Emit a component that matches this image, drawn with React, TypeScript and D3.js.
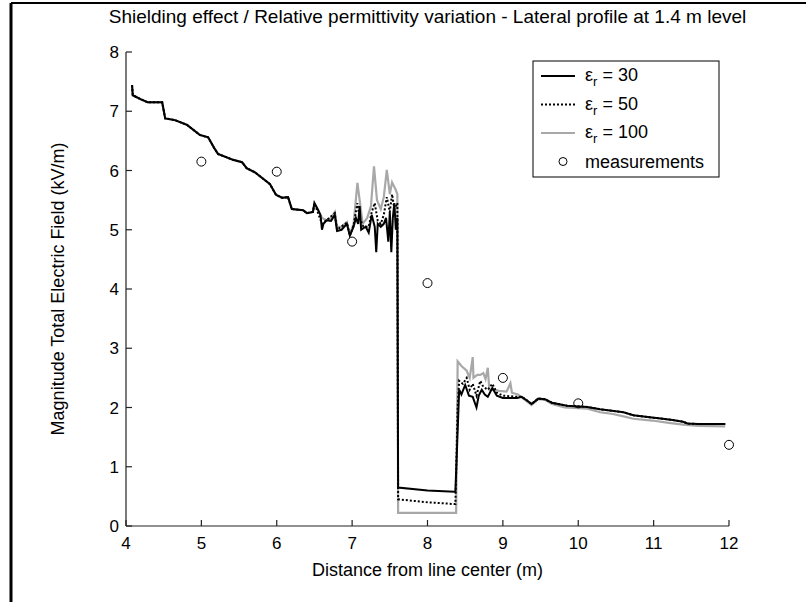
import React from "react";
import * as d3 from "d3";

type Pt = [number, number];

// Shared start of all three simulated profiles (x in m, E in kV/m)
const sharedLeftX = [4.08, 4.09, 4.2, 4.29, 4.48, 4.52, 4.65, 4.81, 4.98, 5.09, 5.17, 5.22, 5.42, 5.54, 5.6, 5.71, 5.87, 5.91, 5.99, 6.07, 6.15, 6.2, 6.35, 6.4, 6.48];
const sharedLeftY = [7.44, 7.27, 7.2, 7.15, 7.15, 6.88, 6.85, 6.77, 6.6, 6.56, 6.38, 6.28, 6.18, 6.14, 6.04, 5.97, 5.81, 5.77, 5.59, 5.54, 5.55, 5.35, 5.33, 5.28, 5.3];

// er = 30
const er30MidX = [6.5, 6.55, 6.58, 6.6, 6.62, 6.66, 6.72, 6.77, 6.8, 6.86, 6.93, 6.97, 7.02, 7.05, 7.08, 7.1, 7.12, 7.18, 7.22, 7.26, 7.3, 7.32, 7.34, 7.38, 7.42, 7.45, 7.48, 7.5, 7.52, 7.54, 7.56, 7.58, 7.6, 7.61, 8.0, 8.36, 8.37, 8.4, 8.42, 8.45, 8.5, 8.55, 8.6, 8.65, 8.68, 8.72, 8.76, 8.8, 8.86, 8.92, 9.0, 9.19];
const er30MidY = [5.45, 5.33, 5.25, 5.0, 5.1, 5.16, 5.15, 5.25, 4.98, 5.0, 5.1, 4.9, 5.05, 5.2, 5.1, 5.4, 5.0, 5.05, 4.95, 5.25, 5.05, 4.62, 5.1, 5.05, 5.1, 5.2, 4.8, 5.3, 4.62, 5.2, 5.45, 5.0, 5.2, 0.65, 0.6, 0.58, 0.58, 1.6, 2.3, 2.22, 2.38, 2.2, 2.18, 2.0, 2.2, 2.3, 2.22, 2.18, 2.33, 2.2, 2.16, 2.16];
const er30TailX = [9.25, 9.33, 9.38, 9.47, 9.56, 9.65, 9.85, 10.12, 10.29, 10.42, 10.6, 10.73, 10.98, 11.12, 11.25, 11.39, 11.45, 11.59, 11.95];
const er30TailY = [2.18, 2.11, 2.06, 2.15, 2.14, 2.08, 2.03, 2.01, 1.97, 1.95, 1.92, 1.87, 1.83, 1.81, 1.79, 1.76, 1.73, 1.72, 1.72];

// er = 50
const er50MidX = [6.5, 6.6, 6.66, 6.77, 6.8, 6.93, 6.97, 7.02, 7.07, 7.1, 7.15, 7.22, 7.26, 7.3, 7.34, 7.38, 7.42, 7.46, 7.5, 7.53, 7.56, 7.6, 7.61, 8.0, 8.36, 8.37, 8.4, 8.42, 8.47, 8.52, 8.56, 8.6, 8.65, 8.7, 8.74, 8.8, 8.86, 8.92, 9.0, 9.19];
const er50MidY = [5.45, 5.1, 5.16, 5.28, 5.0, 5.12, 4.9, 5.08, 5.45, 5.2, 5.05, 5.05, 5.3, 5.45, 5.15, 5.1, 5.25, 5.55, 5.3, 5.6, 5.35, 5.45, 0.45, 0.4, 0.37, 0.37, 2.0, 2.45, 2.4, 2.5, 2.3, 2.4, 2.2, 2.45, 2.35, 2.3, 2.4, 2.25, 2.2, 2.18];

// er = 100
const er100MidX = [6.5, 6.55, 6.6, 6.66, 6.72, 6.77, 6.8, 6.86, 6.93, 6.97, 7.02, 7.07, 7.1, 7.14, 7.2, 7.25, 7.29, 7.33, 7.38, 7.42, 7.46, 7.5, 7.53, 7.58, 7.6, 7.61, 8.36, 8.38, 8.4, 8.45, 8.52, 8.56, 8.6, 8.61, 8.66, 8.7, 8.74, 8.77, 8.8, 8.82, 8.88, 8.95, 9.05, 9.1, 9.12, 9.2];
const er100MidY = [5.45, 5.33, 5.2, 5.16, 5.2, 5.3, 5.05, 5.05, 5.13, 4.92, 5.1, 5.79, 5.5, 5.1, 5.2, 5.4, 6.07, 5.5, 5.35, 5.55, 6.01, 5.6, 5.8, 5.67, 5.6, 0.22, 0.22, 0.22, 2.78, 2.7, 2.62, 2.5, 2.85, 2.5, 2.55, 2.55, 2.58, 2.48, 2.67, 2.3, 2.3, 2.28, 2.27, 2.41, 2.25, 2.22];
const er100TailX = [9.33, 9.38, 9.47, 9.56, 9.65, 9.82, 10.12, 10.29, 10.46, 10.6, 10.73, 10.98, 11.2, 11.39, 11.6, 11.95];
const er100TailY = [2.09, 2.04, 2.14, 2.13, 2.06, 2.0, 1.98, 1.92, 1.89, 1.85, 1.81, 1.78, 1.74, 1.71, 1.69, 1.68];

// Measurements
const measX = [5, 6, 7, 8, 9, 10, 12];
const measY = [6.15, 5.98, 4.8, 4.1, 2.5, 2.07, 1.37];

const xTicks = [4, 5, 6, 7, 8, 9, 10, 11, 12];
const yTicks = [0, 1, 2, 3, 4, 5, 6, 7, 8];

const legendValues = ["30", "50", "100"];

const zip = (xs: number[], ys: number[]): Pt[] => xs.map((x, i) => [x, ys[i]]);

const er30: Pt[] = [...zip(sharedLeftX, sharedLeftY), ...zip(er30MidX, er30MidY), ...zip(er30TailX, er30TailY)];
const er50: Pt[] = [...zip(sharedLeftX, sharedLeftY), ...zip(er50MidX, er50MidY), ...zip(er30TailX, er30TailY)];
const er100: Pt[] = [...zip(sharedLeftX, sharedLeftY), ...zip(er100MidX, er100MidY), ...zip(er100TailX, er100TailY)];
const meas: Pt[] = zip(measX, measY);

const W = 806;
const H = 602;
const L = 126, R = 729, T = 52, B = 526;
const FONT = "'Liberation Sans', Arial, Helvetica, sans-serif";
const AX = "#222";
const GRAY = "#a8a8a8";
const FS = 18;

export default function App() {
  const x = d3.scaleLinear().domain([4, 12]).range([L, R]);
  const y = d3.scaleLinear().domain([0, 8]).range([B, T]);
  const line = d3.line<Pt>().x((d) => x(d[0])).y((d) => y(d[1]));

  const lgX = 533, lgY = 61, lgW = 186, lgH = 116;
  const rowY = (i: number) => lgY + 15 + i * 28.5;

  return (
    <svg width={W} height={H} style={{ position: "absolute", left: 0, top: 0, background: "#fff" }} fontFamily={FONT}>
      <rect x={0} y={0} width={W} height={H} fill="#fff" />
      {/* outer frame (partial) */}
      <line x1={11} y1={3} x2={W} y2={3} stroke="#000" strokeWidth={2} />
      <line x1={11} y1={3} x2={11} y2={H} stroke="#000" strokeWidth={3} />

      <text x={(L + R) / 2} y={23} textAnchor="middle" fontSize={19} fill="#000">
        Shielding effect / Relative permittivity variation - Lateral profile at 1.4 m level
      </text>

      {/* curves */}
      <path d={line(er100) || ""} fill="none" stroke={GRAY} strokeWidth={2.2} strokeLinejoin="miter" />
      <path d={line(er50) || ""} fill="none" stroke="#000" strokeWidth={2} strokeDasharray="2,2" />
      <path d={line(er30) || ""} fill="none" stroke="#000" strokeWidth={2} />
      {meas.map((d, i) => (
        <circle key={i} cx={x(d[0])} cy={y(d[1])} r={4.5} fill="none" stroke="#000" strokeWidth={1} />
      ))}

      {/* axes */}
      <line x1={L} y1={B} x2={R} y2={B} stroke={AX} strokeWidth={1.2} />
      <line x1={L} y1={B} x2={L} y2={T} stroke={AX} strokeWidth={1.2} />
      {xTicks.map((t) => (
        <g key={"x" + t}>
          <line x1={x(t)} x2={x(t)} y1={B} y2={B - 6} stroke={AX} strokeWidth={1.2} />
          <text x={x(t)} y={B + 23} textAnchor="middle" fontSize={17} fill="#000">{t}</text>
        </g>
      ))}
      {yTicks.map((t) => (
        <g key={"y" + t}>
          <line x1={L} x2={L + 6} y1={y(t)} y2={y(t)} stroke={AX} strokeWidth={1.2} />
          <text x={L - 7} y={y(t) + 6} textAnchor="end" fontSize={17} fill="#000">{t}</text>
        </g>
      ))}
      <text x={(L + R) / 2} y={576} textAnchor="middle" fontSize={FS} fill="#000">
        Distance from line center (m)
      </text>
      <text transform={`translate(64, ${(T + B) / 2}) rotate(-90)`} textAnchor="middle" fontSize={FS} fill="#000">
        Magnitude Total Electric Field (kV/m)
      </text>

      {/* legend */}
      <rect x={lgX} y={lgY} width={lgW} height={lgH} fill="#fff" stroke="#000" strokeWidth={1} />
      {legendValues.map((v, i) => (
        <g key={v}>
          <line x1={lgX + 8} x2={lgX + 42} y1={rowY(i)} y2={rowY(i)}
            stroke={i === 2 ? GRAY : "#000"} strokeWidth={2}
            strokeDasharray={i === 1 ? "2,2" : undefined} />
          <text x={lgX + 52} y={rowY(i) + 5} fontSize={FS} fill="#000">
            ε<tspan dy={5} fontSize={13}>r</tspan><tspan dy={-5}> = {v}</tspan>
          </text>
        </g>
      ))}
      <circle cx={lgX + 30} cy={rowY(3)} r={4} fill="none" stroke="#000" strokeWidth={1} />
      <text x={lgX + 52} y={rowY(3) + 6} fontSize={FS} fill="#000">measurements</text>
    </svg>
  );
}
